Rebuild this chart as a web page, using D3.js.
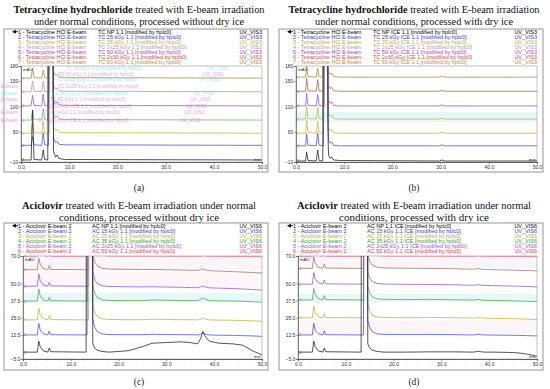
<!DOCTYPE html>
<html>
<head>
<meta charset="utf-8">
<script src="https://cdn.jsdelivr.net/npm/d3@7"></script>
<style>
  body { margin: 0; background: #fff; }
  svg { display: block; }
</style>
</head>
<body>
<div id="chart"></div>
<script>
// ---- data ----
// retention time grids (min)
let tcTimeA = [0, 2.1, 2.4, 2.7, 4.3, 4.6, 4.9, 5.55, 5.7, 5.85, 6.0, 6.3, 6.45, 6.6, 6.75, 7.2, 7.5, 7.9, 9, 50];
let tcTimeB = [0, 2.0, 2.2, 2.5, 4.2, 4.5, 4.8, 5.55, 5.7, 5.85, 6.0, 6.3, 6.45, 6.6, 6.75, 7.1, 7.4, 7.8, 9, 29.8, 30.3, 30.8, 50];
let acTime = [0, 3.0, 3.3, 3.6, 4.2, 5.2, 5.5, 5.8, 13.2, 13.4, 13.7, 14.0, 14.3, 14.6, 15.0, 15.5, 16.5, 18, 22, 25, 27, 30, 33, 35, 36.5, 37.2, 37.6, 38.2, 39, 41, 44, 46, 48, 50];

// signal (mAU) of each trace, aligned to the time grid above
let tcSignalA = [
  [-6, -6, 93, -5, -6, 14, -5, -6, 400, 400, 400, 400, 400, 400, 10, 0, 4, -3, -5, -6],
  [23, 23, 40, 24, 23, 48, 24, 23, 23, 400, 400, 400, 400, 400, 38, 28, 31, 25, 24, 23],
  [47, 47, 66, 48, 47, 70, 48, 47, 47, 47, 400, 400, 400, 80, 58, 52, 55, 49, 48, 47],
  [73, 73, 92, 74, 73, 96, 74, 73, 300, 400, 400, 400, 400, 400, 85, 78, 81, 75, 74, 73],
  [101, 101, 122, 102, 101, 124, 102, 101, 101, 250, 400, 400, 400, 130, 112, 106, 109, 103, 102, 101],
  [129, 129, 150, 130, 129, 150, 130, 129, 129, 129, 400, 400, 400, 400, 140, 134, 137, 131, 130, 129],
  [156, 156, 176, 157, 156, 172, 157, 156, 200, 400, 400, 400, 200, 170, 168, 161, 164, 158, 157, 156]
];
let tcSignalB = [
  [-8, -8, 10, -7, -8, 14, -7, -8, 400, 400, 400, 400, 400, 60, 4, -3, 0, -6, -7, -8, -6, -8, -8],
  [22, 22, 46, 23, 22, 47, 23, 22, 22, 400, 400, 400, 400, 400, 34, 27, 30, 23, 22, 22, 24, 22, 22],
  [47, 47, 72, 48, 47, 70, 48, 47, 47, 300, 400, 400, 400, 90, 59, 52, 55, 48, 47, 47, 49, 47, 47],
  [75, 75, 100, 76, 75, 98, 76, 75, 250, 400, 400, 400, 400, 400, 87, 80, 83, 76, 75, 75, 77, 75, 75],
  [101, 101, 126, 102, 101, 124, 102, 101, 101, 101, 400, 400, 400, 140, 113, 106, 109, 102, 101, 101, 103, 101, 101],
  [130, 130, 156, 131, 130, 153, 131, 130, 130, 400, 400, 400, 400, 400, 142, 135, 138, 131, 130, 130, 132, 130, 130],
  [158, 158, 180, 159, 158, 175, 159, 158, 220, 400, 400, 400, 220, 180, 170, 163, 166, 159, 158, 158, 160, 158, 158]
];
let acSignalC = [
  [0, 0, 8, 4, 1, 0, 3, 0.3, 0, 400, 400, 400, 400, 6, 3, 1.5, 0.5, 0, 1, 4, 6.5, 7, 7.5, 7, 6, 10, 15, 11, 8, 6.5, 6, 5, 1, -2],
  [12.5, 12.5, 21, 16, 13.5, 12.5, 15.5, 12.7, 12.5, 12.5, 400, 400, 400, 24, 18, 15, 13.3, 12.8, 12.7, 12.7, 13, 12.8, 12.7, 12.7, 12.5, 13, 14.5, 13, 12.5, 12.3, 12.2, 12, 11.8, 11.5],
  [23.5, 23.5, 32, 27, 24.5, 23.5, 26.5, 23.7, 23.5, 23.5, 23.5, 400, 400, 35, 29, 26, 24.3, 23.8, 23.6, 23.6, 24, 23.8, 23.6, 23.6, 23.5, 24, 25, 24, 23.5, 23.3, 23.2, 23, 22.8, 22.5],
  [37.2, 37.2, 46, 41, 38.2, 37.2, 40, 37.4, 37.2, 37.2, 400, 400, 400, 49, 43, 40, 38, 37.6, 37.5, 37.5, 38, 37.8, 37.6, 37.5, 37.4, 38.5, 39.5, 38.3, 37.6, 37.3, 37.2, 37, 36.7, 36.4],
  [48, 48, 57, 52, 49, 48, 51, 48.2, 48, 48, 48, 400, 400, 59, 53, 50, 48.3, 47.8, 47.6, 47.5, 47.6, 47.4, 47.2, 47, 46.9, 47.5, 48.2, 47.4, 46.8, 46.6, 46.3, 46, 45.6, 45.2],
  [60, 60, 68.5, 64, 61, 60, 63, 60.2, 60, 60, 60, 400, 400, 71, 66, 63, 61, 60.5, 60.3, 60.2, 60.2, 60, 59.8, 59.6, 59.5, 60, 60.6, 59.8, 59.3, 59, 58.6, 58.3, 58, 57.6],
  [69.8, 69.8, 78, 74, 70.5, 69.8, 72, 69.8, 69.8, 69.8, 69.8, 400, 400, 80, 75, 72, 70.5, 70, 69.9, 69.9, 69.9, 69.9, 69.8, 69.8, 69.8, 70, 70.3, 70, 69.8, 69.8, 69.7, 69.7, 69.6, 69.5]
];
let acSignalD = [
  [0, 0, 8, 4, 1, 0, 3, 0.3, 0, 400, 400, 400, 400, 6, 3, 1.5, 0.5, 0, 0, 0.1, 0.2, 0.2, 0.2, 0.1, 0, 0.3, 0.6, 0.3, 0, 0, -0.2, -0.5, -1.5, -3],
  [12.5, 12.5, 21, 16, 13.5, 12.5, 15.5, 12.7, 12.5, 12.5, 12.5, 400, 400, 23, 18, 15, 13.3, 12.9, 12.8, 12.8, 12.9, 12.8, 12.7, 12.6, 12.5, 12.7, 13, 12.7, 12.5, 12.4, 12.3, 12.2, 12, 11.8],
  [25, 25, 33.5, 28.5, 26, 25, 28, 25.2, 25, 25, 25, 400, 400, 35, 30, 27, 25.6, 25.2, 25.1, 25.1, 25.3, 25.2, 25, 24.9, 24.8, 25, 25.4, 25, 24.8, 24.6, 24.4, 24.2, 24, 23.8],
  [38, 38, 46.5, 42, 39, 38, 41, 38.2, 38, 38, 38, 400, 400, 48, 43, 40.5, 38.8, 38.4, 38.3, 38.3, 38.4, 38.3, 38.1, 38, 37.9, 38.1, 38.4, 38, 37.8, 37.6, 37.4, 37.2, 37, 36.8],
  [49.5, 49.5, 58, 53.5, 50.5, 49.5, 52.5, 49.7, 49.5, 49.5, 49.5, 400, 400, 59, 54, 51.5, 50, 49.6, 49.4, 49.3, 49.3, 49.2, 49, 48.8, 48.7, 48.9, 49.2, 48.8, 48.6, 48.4, 48.2, 48, 47.8, 47.5],
  [61, 61, 69.5, 65, 62, 61, 64, 61.2, 61, 61, 61, 400, 400, 71, 66, 63.5, 61.8, 61.3, 61.1, 61, 61, 60.9, 60.7, 60.5, 60.4, 60.6, 60.9, 60.5, 60.2, 60, 59.8, 59.6, 59.4, 59.2],
  [69.8, 69.8, 78, 74, 70.5, 69.8, 72, 69.8, 69.8, 69.8, 69.8, 400, 400, 80, 75, 72, 70.5, 70, 69.9, 69.9, 69.9, 69.9, 69.8, 69.8, 69.8, 70, 70.2, 70, 69.8, 69.8, 69.7, 69.7, 69.6, 69.5]
];

// legend texts
let tcSamplesA = ["TC NP 1.1", "TC 25 kGy 1.1", "TC 35 kGy 1.1", "TC 2x25 kGy 1.1", "TC 50 kGy 1.1", "TC 2x30 kGy 1.1", "TC 60 kGy 1.1"];
let tcSamplesB = ["TC NP ICE 1.1", "TC 25 kGy ICE 1.1", "TC 35 kGy ICE 1.1", "TC 2x25 kGy ICE 1.1", "TC 50 kGy ICE 1.1", "TC 2x30 kGy ICE 1.1", "TC 60 kGy ICE 1.1"];
let acSamplesC = ["AC NP 1.1", "AC 15 kGy 1.1", "AC 25 kGy 1.1", "AC 35 kGy 1.1", "AC 2x25 kGy 1.1", "AC 50 kGy 1.1"];
let acSamplesD = ["AC NP 1.1 ICE", "AC 15 kGy 1.1 ICE", "AC 25 kGy 1.1 ICE", "AC 35 kGy 1.1 ICE", "AC 2x25 kGy 1.1 ICE", "AC 50 kGy 1.1 ICE"];

// axis ticks
let xTickLabels = [0, 10, 20, 30, 40, 50];
let tcYTicks = [-10, 50, 100, 150, 180];
let acYTicks = [-5, 12.5, 25, 37.5, 50, 70];

// colours
let tcLegendColors = ["#000000", "#2f3cf0", "#b8b41c", "#b49a9a", "#a040f0", "#d84848", "#c88a3a"];
let tcTraceColorsA = ["#2a2a2a", "#4a58e0", "#c9b83a", "#6cc070", "#9a58e6", "#e484a0", "#a89048"];
let tcTraceColorsB = ["#2a2a2a", "#4a58e0", "#c9b83a", "#c2b848", "#9a58e6", "#a8684a", "#a89048"];
let acLegendColors = ["#000000", "#2f3cf0", "#b8b41c", "#2ca82c", "#c040e0", "#e04050"];
let acTraceColors = ["#2a2a2a", "#4a58e8", "#c9b43a", "#4cae4c", "#9a58e6", "#a87868", "#f07088"];

let W = 550, H = 389;
let svg = d3.select("#chart").append("svg").attr("width", W).attr("height", H)
  .style("font-family", "'Liberation Sans', Arial, sans-serif");

let panels = [
  { dx: 0, top: 29, bottom: 172, plot: [21, 262, 66, 162], yDom: [-10, 180], yTicks: tcYTicks, yFmt: d3.format("d"),
    title: ["Tetracycline hydrochloride", " treated with E-beam irradiation", "under normal conditions, processed without dry ice"],
    titleW: [251, 210], titleY: [12.5, 24.5], compound: "Tetracycline HCl E-beam", channel: "UV_VIS3",
    samples: tcSamplesA, legendColors: tcLegendColors, time: tcTimeA, signal: tcSignalA, colors: tcTraceColorsA,
    label: "(a)", labelY: 191, midX: 98, bands: [] },
  { dx: 275, top: 29, bottom: 172, plot: [21, 262, 66, 162], yDom: [-10, 180], yTicks: tcYTicks, yFmt: d3.format("d"),
    title: ["Tetracycline hydrochloride", " treated with E-beam irradiation", "under normal conditions, processed with dry ice"],
    titleW: [251, 198], titleY: [12.5, 24.5], compound: "Tetracycline HCl E-beam", channel: "UV_VIS3",
    samples: tcSamplesB, legendColors: tcLegendColors, time: tcTimeB, signal: tcSignalB, colors: tcTraceColorsB,
    label: "(b)", labelY: 191, midX: 98, bands: [[112, 122, "#e8f8fa"]] },
  { dx: 0, top: 223, bottom: 370, plot: [23, 262, 256, 359], yDom: [-5, 70], yTicks: acYTicks, yFmt: d3.format(".1f"),
    title: ["Aciclovir", " treated with E-beam irradiation under normal", "conditions, processed without dry ice"],
    titleW: [234, 160], titleY: [209, 220.5], compound: "Aciclovir E-beam 2", channel: "UV_VIS6",
    samples: acSamplesC, legendColors: acLegendColors, time: acTime, signal: acSignalC, colors: acTraceColors,
    label: "(c)", labelY: 385, midX: 92, bands: [[256, 270, "#fcf5f7"], [293, 302, "#e6f8f9"], [272, 287, "#fcf6f9"]] },
  { dx: 275, top: 223, bottom: 370, plot: [23, 262, 256, 359], yDom: [-5, 70], yTicks: acYTicks, yFmt: d3.format(".1f"),
    title: ["Aciclovir", " treated with E-beam irradiation under normal", "conditions, processed with dry ice"],
    titleW: [234, 150], titleY: [209, 220.5], compound: "Aciclovir E-beam 2", channel: "UV_VIS6",
    samples: acSamplesD, legendColors: acLegendColors, time: acTime, signal: acSignalD, colors: acTraceColors,
    label: "(d)", labelY: 385, midX: 92, bands: [[256, 268, "#fcf5f7"], [294, 302, "#e6f8f9"], [320, 334, "#fdf6f8"]] }
];

panels.forEach(function(p, pi) {
  let g = svg.append("g").attr("transform", "translate(" + p.dx + ",0)");
  let cx = 139;

  // title, two lines, serif
  let t1 = g.append("text").attr("x", cx).attr("y", p.titleY[0]).attr("text-anchor", "middle")
    .attr("font-family", "'Liberation Serif', 'DejaVu Serif', serif").attr("font-size", 10.3)
    .attr("textLength", p.titleW[0]).attr("lengthAdjust", "spacingAndGlyphs").attr("fill", "#111");
  t1.append("tspan").attr("font-weight", "bold").text(p.title[0]);
  t1.append("tspan").text(p.title[1]);
  g.append("text").attr("x", cx).attr("y", p.titleY[1]).attr("text-anchor", "middle")
    .attr("font-family", "'Liberation Serif', 'DejaVu Serif', serif").attr("font-size", 10.3)
    .attr("textLength", p.titleW[1]).attr("lengthAdjust", "spacingAndGlyphs").attr("fill", "#111")
    .text(p.title[2]);

  // outer frame
  g.append("rect").attr("x", 4).attr("y", p.top).attr("width", 264).attr("height", p.bottom - p.top)
    .attr("fill", "#fff").attr("stroke", "#8a8a8a").attr("stroke-width", 0.9);

  let [x0, x1, yTop, yBot] = p.plot;

  // tinted bands behind traces
  p.bands.forEach(function(b) {
    g.append("rect").attr("x", x0).attr("y", b[0]).attr("width", x1 - x0).attr("height", b[1] - b[0]).attr("fill", b[2]);
  });

  // legend rows
  let rowY = function(i) { return p.top + 4.6 + i * 5; };
  p.samples.forEach(function(s, i) {
    let col = p.legendColors[i];
    g.append("text").attr("x", 18).attr("y", rowY(i)).attr("font-size", 5.5).attr("fill", col)
      .text((i + 1) + " - " + p.compound);
    g.append("text").attr("x", p.midX).attr("y", rowY(i)).attr("font-size", 5.5).attr("fill", col)
      .text(s + " [modified by hplc0]");
    g.append("text").attr("x", 262).attr("y", rowY(i)).attr("font-size", 5.5).attr("fill", col)
      .attr("text-anchor", "end").text(p.channel);
  });
  // arrow marker on first row
  g.append("path").attr("d", "M12," + (rowY(0) - 1.9) + "l3.8,-2v4z").attr("fill", "#000");
  g.append("line").attr("x1", 15).attr("x2", 18).attr("y1", rowY(0) - 1.9).attr("y2", rowY(0) - 1.9)
    .attr("stroke", "#000").attr("stroke-width", 0.9);

  // scales
  let x = d3.scaleLinear().domain([0, 50]).range([x0, x1]);
  let y = d3.scaleLinear().domain(p.yDom).range([yBot, yTop]);

  // plot frame
  g.append("rect").attr("x", x0).attr("y", yTop).attr("width", x1 - x0).attr("height", yBot - yTop)
    .attr("fill", "none").attr("stroke", "#9a9a9a").attr("stroke-width", 0.6);

  let clipId = "clip" + pi;
  g.append("clipPath").attr("id", clipId).append("rect")
    .attr("x", x0).attr("y", yTop).attr("width", x1 - x0).attr("height", yBot - yTop);

  let line = d3.line().x(function(d) { return x(d[0]); }).y(function(d) { return y(d[1]); });
  let traces = g.append("g").attr("clip-path", "url(#" + clipId + ")");
  // draw top trace first so black ends up on top
  for (let k = p.signal.length - 1; k >= 0; k--) {
    let pts = p.time.map(function(t, j) { return [t, p.signal[k][j]]; });
    traces.append("path").datum(pts).attr("fill", "none").attr("stroke", p.colors[k])
      .attr("stroke-width", 0.8).attr("stroke-linejoin", "round").attr("d", line);
    // trace number next to the y axis
    g.append("text").attr("x", x(0.25)).attr("y", y(p.signal[k][0]) + 1.5).attr("font-size", 3.6)
      .attr("fill", p.colors[k]).text(k + 1);
  }

  // x axis
  let xAxis = d3.axisBottom(x).tickValues(xTickLabels).tickSize(2.2).tickFormat(d3.format(".1f"));
  let gx = g.append("g").attr("transform", "translate(0," + yBot + ")").call(xAxis);
  let xMinor = d3.axisBottom(x).tickValues(d3.range(0, 50.1, 2.5)).tickSize(1.3).tickFormat("");
  g.append("g").attr("transform", "translate(0," + yBot + ")").call(xMinor);

  // y axis
  let yAxis = d3.axisLeft(y).tickValues(p.yTicks).tickSize(2.2).tickFormat(p.yFmt);
  let gy = g.append("g").attr("transform", "translate(" + x0 + ",0)").call(yAxis);

  svg.selectAll(".domain").attr("stroke", "#555").attr("stroke-width", 0.7);
  g.selectAll(".tick line").attr("stroke", "#555").attr("stroke-width", 0.5);
  g.selectAll(".tick text").attr("font-size", 5).attr("fill", "#333")
    .attr("font-family", "'Liberation Sans', Arial, sans-serif");
  gx.selectAll(".tick text").attr("dy", "0.35em").attr("y", 5);
  gy.selectAll(".tick text").attr("x", -2.6);

  g.append("text").attr("x", x0 + 2).attr("y", yTop + 4.5).attr("font-size", 4.3).attr("fill", "#333").text("mAU");
  g.append("text").attr("x", x1 - 1).attr("y", yBot - 1.5).attr("font-size", 4.3).attr("fill", "#333")
    .attr("text-anchor", "end").text("min");

  // sub-figure label
  g.append("text").attr("x", cx).attr("y", p.labelY).attr("text-anchor", "middle")
    .attr("font-family", "'Liberation Serif', 'DejaVu Serif', serif").attr("font-size", 9.5)
    .attr("fill", "#222").text(p.label);
});

// faint ghosted copy of legend text that sits over panel (a)
let ghostRows = [
  ["TC 35 kGy 1.1 [modified by hplc0]", 66, 70, "#38d8e0"], ["UV_VIS3", 207, 70, "#38d8e0"],
  ["TC 50 kGy 1.1 [modified by hplc0]", 58, 76, "#e040e8"], ["UV_VIS3", 203, 76, "#e040e8"],
  ["TC 2x25 kGy 1.1 [modified by hplc0]", 56, 81, "#38d8e0"], ["UV_VIS3", 199, 81, "#38d8e0"],
  ["E-beam", 1, 88, "#e040e8"], ["TC 2x25 kGy 1.1 [modified by hplc0]", 58, 88, "#e040e8"],
  ["E-beam", 1, 95, "#38d8e0"], ["TC 50 kGy 1.1 [modified by hplc0]", 52, 95, "#38d8e0"], ["UV_VIS3", 193, 95, "#38d8e0"],
  ["E-beam", 1, 101, "#e040e8"], ["TC 50 kGy 1.1 [modified by hplc0]", 50, 101, "#e040e8"], ["UV_VIS3", 190, 101, "#e040e8"],
  ["TC 60 kGy ICE 1.1 [modified by hplc0]", 46, 108, "#e040e8"], ["UV_VIS3", 186, 108, "#e040e8"],
  ["E-beam", 1, 114, "#e040e8"], ["TC 60 kGy 1.1 [modified by hplc0]", 44, 114, "#e040e8"], ["UV_VIS3", 184, 114, "#e040e8"],
  ["E-beam", 1, 122, "#e040e8"], ["TC 2x30 kGy ICE 1.1 [modified by hplc0]", 38, 122, "#e040e8"], ["UV_VIS3", 180, 122, "#e040e8"]
];
svg.append("g").attr("opacity", 0.5).selectAll("text").data(ghostRows).enter().append("text")
  .attr("x", function(d) { return d[1]; }).attr("y", function(d) { return d[2]; })
  .attr("font-size", 5).attr("fill", function(d) { return d[3]; }).text(function(d) { return d[0]; });
</script>
</body>
</html>
